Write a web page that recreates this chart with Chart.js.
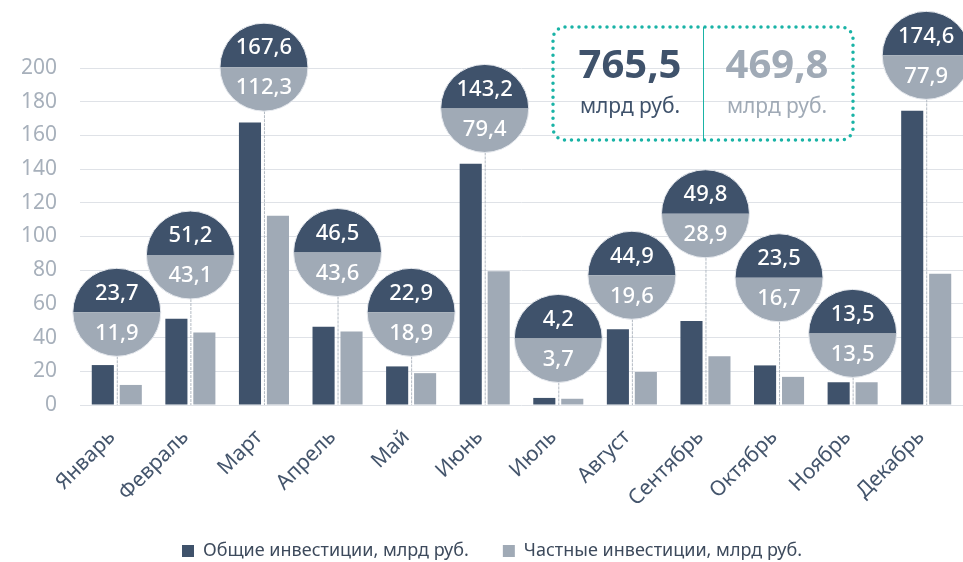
<!DOCTYPE html>
<html>
<head>
<meta charset="utf-8">
<script src="https://cdn.jsdelivr.net/npm/chart.js@4"></script>
<style>
  body { margin: 0; background: #fff; }
  #wrap { width: 963px; height: 562px; position: relative; }
</style>
</head>
<body>
<div id="wrap"><canvas id="chartInv"></canvas></div>
<script>
const months = ['Январь', 'Февраль', 'Март', 'Апрель', 'Май', 'Июнь', 'Июль', 'Август', 'Сентябрь', 'Октябрь', 'Ноябрь', 'Декабрь']
const totalInv = [23.7, 51.2, 167.6, 46.5, 22.9, 143.2, 4.2, 44.9, 49.8, 23.5, 13.5, 174.6]
const privateInv = [11.9, 43.1, 112.3, 43.6, 18.9, 79.4, 3.7, 19.6, 28.9, 16.7, 13.5, 77.9]
// level (in axis units) where each value bubble sits
const bubbleLevel = [55, 89, 200.5, 90.5, 55, 176, 39.5, 77, 113.5, 75.5, 42.5, 207.5]
const seriesNames = ['Общие инвестиции, млрд руб.', 'Частные инвестиции, млрд руб.']
const sumTotal = '765,5'
const sumPrivate = '469,8'
const sumUnit = 'млрд руб.'

const DARK = '#3f526b'
const LIGHT = '#a0aab6'
const FONT = '"Noto Sans", sans-serif'

const fmt = (v) => v.toFixed(1).replace('.', ',')

const bubbles = {
  id: 'bubbles',
  afterDatasetsDraw(chart) {
    const c = chart.ctx
    const x = chart.scales.x
    const y = chart.scales.y
    const r = 44
    const base = y.getPixelForValue(0)
    for (let i = 0; i < months.length; i++) {
      const cx = x.getPixelForValue(i)
      const cy = y.getPixelForValue(bubbleLevel[i])
      c.save()
      // connector
      c.strokeStyle = '#b3bac3'
      c.lineWidth = 1
      c.setLineDash([3, 1])
      c.beginPath()
      c.moveTo(cx + 0.5, cy + r)
      c.lineTo(cx + 0.5, base)
      c.stroke()
      c.setLineDash([])
      // halves
      c.fillStyle = DARK
      c.beginPath()
      c.arc(cx, cy, r, Math.PI, 0)
      c.closePath()
      c.fill()
      c.fillStyle = LIGHT
      c.beginPath()
      c.arc(cx, cy, r, 0, Math.PI)
      c.closePath()
      c.fill()
      c.strokeStyle = '#e6e9ee'
      c.lineWidth = 1
      c.beginPath()
      c.arc(cx, cy, r, 0, Math.PI * 2)
      c.stroke()
      // values
      c.fillStyle = '#fff'
      c.font = '500 22px ' + FONT
      c.textAlign = 'center'
      c.textBaseline = 'middle'
      c.fillText(fmt(totalInv[i]), cx, cy - 19)
      c.fillText(fmt(privateInv[i]), cx, cy + 21)
      c.restore()
    }
  }
}

const summaryBox = {
  id: 'summaryBox',
  afterDraw(chart) {
    const c = chart.ctx
    const l = 553, t = 27, w = 300, h = 113, rad = 12
    c.save()
    c.strokeStyle = '#1ab3a6'
    c.lineWidth = 3.5
    c.lineCap = 'round'
    c.setLineDash([0, 7])
    c.beginPath()
    c.roundRect(l, t, w, h, rad)
    c.stroke()
    c.setLineDash([])
    c.lineWidth = 1
    c.lineCap = 'butt'
    c.beginPath()
    c.moveTo(703.5, t)
    c.lineTo(703.5, t + h)
    c.stroke()
    c.textAlign = 'center'
    c.textBaseline = 'middle'
    c.font = 'bold 40px ' + FONT
    c.fillStyle = DARK
    c.fillText(sumTotal, 630, 67)
    c.fillStyle = LIGHT
    c.fillText(sumPrivate, 777, 67)
    c.font = '21px ' + FONT
    c.fillStyle = DARK
    c.fillText(sumUnit, 630, 107)
    c.fillStyle = LIGHT
    c.fillText(sumUnit, 777, 107)
    c.restore()
  }
}

const ctx = document.getElementById('chartInv')

const chartInv = new Chart(ctx, {
  type: 'bar',
  data: {
    labels: months,
    datasets: [{
      label: seriesNames[0],
      data: totalInv,
      backgroundColor: DARK,
      borderWidth: 0
    },
    {
      label: seriesNames[1],
      data: privateInv,
      backgroundColor: LIGHT,
      borderWidth: 0
    }]
  },
  options: {
    responsive: true,
    maintainAspectRatio: false,
    animation: false,
    categoryPercentage: 0.76,
    barPercentage: 0.79,
    layout: {
      padding: { top: 68, left: 21, right: 0, bottom: -8 }
    },
    plugins: {
      tooltip: { enabled: false },
      legend: {
        position: 'bottom',
        labels: {
          boxWidth: 12,
          boxHeight: 12,
          padding: 34,
          color: '#3d4a5c',
          font: { family: FONT, size: 18 }
        }
      }
    },
    scales: {
      x: {
        grid: { display: false },
        border: { display: false },
        ticks: {
          color: '#44556c',
          font: { family: FONT, size: 21 },
          maxRotation: 45,
          minRotation: 45,
          labelOffset: -5,
          padding: 12
        },
        afterFit(axis) {
          axis.paddingLeft = 0
          axis.paddingRight = 0
          if (axis._margins) {
            axis._margins.left = 0
            axis._margins.right = 0
          }
          axis.height = 103
        }
      },
      y: {
        min: 0,
        max: 200,
        grid: { color: '#dfe2e7', lineWidth: 1, drawTicks: false },
        border: { display: false },
        ticks: {
          stepSize: 20,
          padding: 23,
          color: '#a7b0bb',
          font: { family: FONT, size: 21 }
        },
        afterFit(axis) {
          axis.width = 59
        }
      }
    }
  },
  plugins: [bubbles, summaryBox]
})
</script>
</body>
</html>
